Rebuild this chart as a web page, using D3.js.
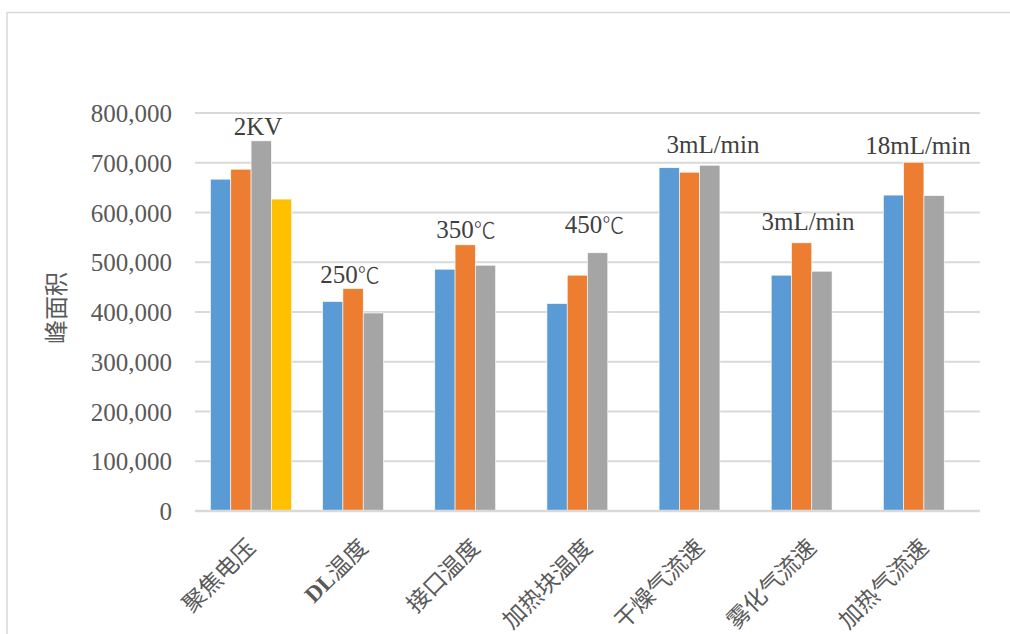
<!DOCTYPE html>
<html>
<head>
<meta charset="utf-8">
<script src="https://cdn.jsdelivr.net/npm/d3@7"></script>
<style>
  html, body { margin: 0; padding: 0; background: #fff; }
  svg { display: block; }
</style>
</head>
<body>
<svg id="chart" width="1010" height="634"></svg>
<script>
// ---- data ----
const categories = ["聚焦电压", "DL温度", "接口温度", "加热块温度", "干燥气流速", "雾化气流速", "加热气流速"];
const seriesBlue   = [667000, 421000, 486000, 417000, 690000, 474000, 635000];
const seriesOrange = [687000, 447000, 535000, 474000, 681000, 539000, 701000];
const seriesGray   = [744000, 398000, 494000, 519000, 695000, 482000, 634000];
const seriesYellow = [627000, null, null, null, null, null, null];
const yTicks = [0, 100000, 200000, 300000, 400000, 500000, 600000, 700000, 800000];
const yTitle = "峰面积";
// annotation text boxes: label, category, horizontal fraction of the category band, baseline value
const annTexts  = ["2KV", "250℃", "350℃", "450℃", "3mL/min", "3mL/min", "18mL/min"];
const annCats   = ["聚焦电压", "DL温度", "接口温度", "加热块温度", "干燥气流速", "雾化气流速", "加热气流速"];
const annFrac   = [0.562, 0.382, 0.417, 0.563, 0.619, 0.466, 0.447];
const annValues = [755000, 458000, 548000, 559000, 719000, 565000, 717000];

const seriesList = [seriesBlue, seriesOrange, seriesGray, seriesYellow];
const colors = ["#5B9BD5", "#ED7D31", "#A5A5A5", "#FFC000"];

// ---- layout ----
const plotLeft = 195, plotRight = 980, plotTop = 113, plotBottom = 511;
const serif = "'Liberation Serif', 'Noto Sans CJK SC', serif";
const cjk = "'Noto Sans CJK SC', 'Noto Sans CJK JP', sans-serif";

const svg = d3.select("#chart");

// outer chart border
svg.append("rect")
  .attr("x", 7).attr("y", 12.5).attr("width", 1100).attr("height", 700)
  .attr("fill", "none").attr("stroke", "#d9d9d9").attr("stroke-width", 1.5);

const x0 = d3.scaleBand().domain(categories).range([plotLeft, plotRight]).paddingInner(0).paddingOuter(0);
const groupPad = 15.5;
const x1 = d3.scaleBand().domain(d3.range(seriesList.length))
  .range([groupPad, x0.bandwidth() - groupPad]).padding(0);
const y = d3.scaleLinear().domain([0, 800000]).range([plotBottom, plotTop]);

// gridlines
svg.append("g").selectAll("line").data(yTicks.filter(d => d > 0)).join("line")
  .attr("x1", plotLeft).attr("x2", plotRight)
  .attr("y1", d => y(d)).attr("y2", d => y(d))
  .attr("stroke", "#d9d9d9").attr("stroke-width", 1.8);

// bars
const barData = [];
seriesList.forEach((s, si) => s.forEach((v, ci) => {
  if (v != null) barData.push({ cat: categories[ci], si, v });
}));
svg.append("g").selectAll("rect").data(barData).join("rect")
  .attr("x", d => x0(d.cat) + x1(d.si))
  .attr("width", x1.bandwidth())
  .attr("y", d => y(d.v))
  .attr("height", d => y(0) - y(d.v))
  .attr("fill", d => colors[d.si])
  .attr("stroke", "#ffffff").attr("stroke-width", 0.6);

// baseline
svg.append("line")
  .attr("x1", plotLeft).attr("x2", plotRight).attr("y1", y(0)).attr("y2", y(0))
  .attr("stroke", "#d9d9d9").attr("stroke-width", 2.6);

// y axis
const yAxis = svg.append("g")
  .attr("transform", `translate(${plotLeft - 23},0)`)
  .call(d3.axisLeft(y).tickValues(yTicks).tickSize(0).tickPadding(0).tickFormat(d3.format(",")));
yAxis.select(".domain").remove();
yAxis.selectAll("text")
  .attr("font-family", serif).attr("font-size", 25).attr("fill", "#595959")
  .attr("dy", "0.34em");

// y title
svg.append("text")
  .attr("transform", "translate(57,308) rotate(-90)")
  .attr("text-anchor", "middle").attr("dominant-baseline", "central")
  .attr("font-family", serif).attr("font-size", 24).attr("fill", "#595959")
  .text(yTitle);

// x axis
const xAxis = svg.append("g")
  .attr("transform", `translate(0,${plotBottom})`)
  .call(d3.axisBottom(x0).tickSize(0).tickPadding(0));
xAxis.select(".domain").remove();
xAxis.selectAll("text")
  .attr("font-family", serif).attr("font-size", 23).attr("fill", "#595959")
  .attr("text-anchor", "end")
  .attr("dy", 0).attr("y", 0)
  .attr("transform", "translate(6,38) rotate(-45)")
  .each(function(d) {
    const t = d3.select(this);
    if (d.startsWith("DL")) {
      t.text(null);
      t.append("tspan").attr("font-weight", "bold").text("DL");
      t.append("tspan").text(d.slice(2));
    }
  });

// annotations
svg.append("g").selectAll("text").data(annTexts.map((t, i) => ({ t, c: annCats[i], f: annFrac[i], v: annValues[i] })))
  .join("text")
  .attr("x", d => x0(d.c) + d.f * x0.bandwidth())
  .attr("y", d => y(d.v))
  .attr("text-anchor", "middle")
  .attr("font-family", serif).attr("font-size", 25).attr("fill", "#404040")
  .each(function(d) {
    const t = d3.select(this);
    if (d.t.endsWith("℃")) {
      t.append("tspan").text(d.t.slice(0, -1));
      t.append("tspan").attr("font-family", cjk).attr("font-weight", 300).attr("font-size", 22).text("℃");
    } else {
      t.text(d.t);
    }
  });
</script>
</body>
</html>
